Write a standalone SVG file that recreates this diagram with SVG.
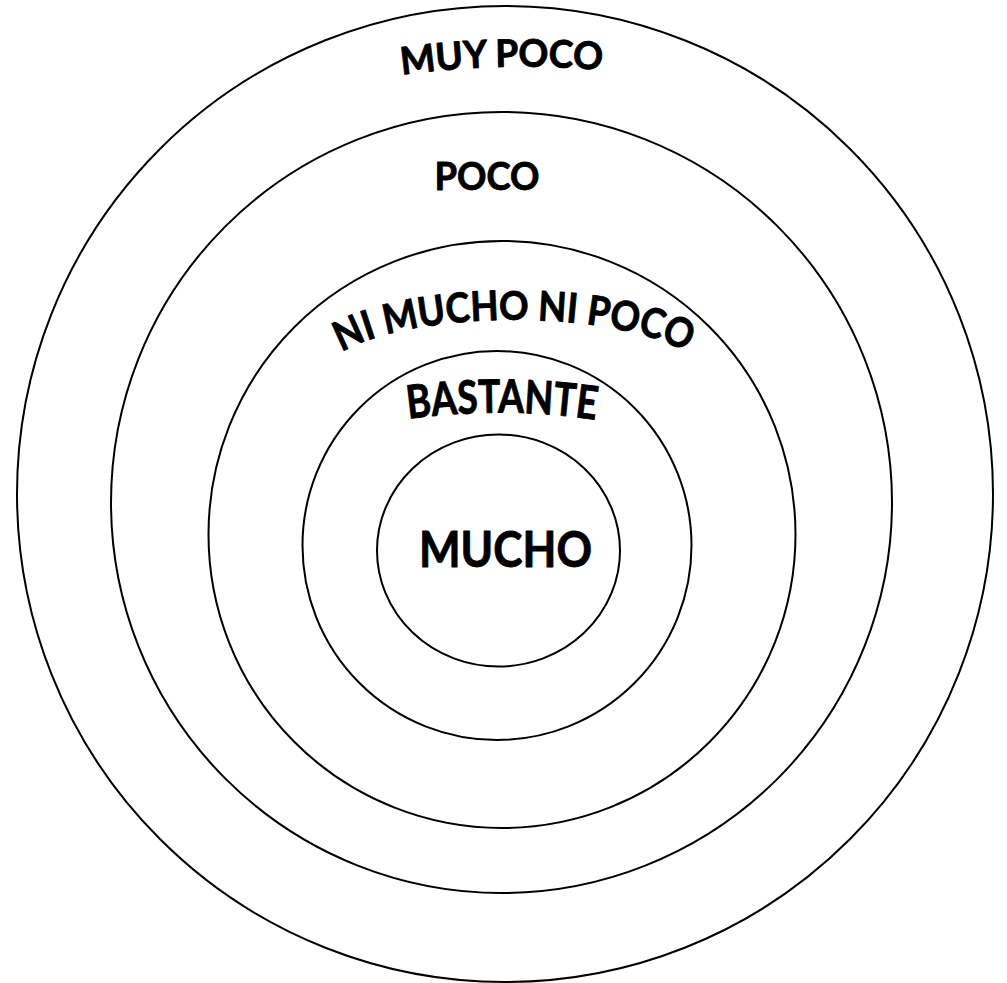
<svg xmlns="http://www.w3.org/2000/svg" width="1007" height="983" viewBox="0 0 1007 983">
<style>
.ring{fill:none;stroke:#000;stroke-width:2}
.lbl{font-family:Lato,"Open Sans","Liberation Sans",sans-serif;font-weight:700;fill:#000;stroke:#000;stroke-width:0.9;stroke-linejoin:round}
</style>
<defs>
<path id="p-muypoco" d="M 398 75.5 Q 500 61 606 70.5"/>
<path id="p-nimucho" d="M 322 378 A 192 58 0 0 1 706 378"/>
<path id="p-bastante" d="M 400 420 Q 502 405 604 421"/>
</defs>
<rect width="1007" height="983" fill="#fff"/>
<g id="ring-muy-poco">
<circle class="ring" cx="505" cy="494" r="488"/>
<text class="lbl" font-size="38"><textPath href="#p-muypoco" startOffset="50%" text-anchor="middle" textLength="201" lengthAdjust="spacingAndGlyphs">MUY POCO</textPath></text>
</g>
<g id="ring-poco">
<circle class="ring" cx="501.5" cy="502.5" r="390.5"/>
<text class="lbl" font-size="39" x="487" y="190" text-anchor="middle" textLength="105" lengthAdjust="spacingAndGlyphs">POCO</text>
</g>
<g id="ring-ni-mucho-ni-poco">
<circle class="ring" cx="502" cy="534.5" r="293.5"/>
<text class="lbl" font-size="41"><textPath href="#p-nimucho" startOffset="50%" text-anchor="middle" textLength="354" lengthAdjust="spacingAndGlyphs">NI MUCHO NI POCO</textPath></text>
</g>
<g id="ring-bastante">
<circle class="ring" cx="497" cy="545.5" r="194.5"/>
<text class="lbl" font-size="46"><textPath href="#p-bastante" startOffset="50%" text-anchor="middle" textLength="188" lengthAdjust="spacingAndGlyphs">BASTANTE</textPath></text>
</g>
<g id="ring-mucho">
<ellipse class="ring" cx="498.5" cy="550.5" rx="121.5" ry="116"/>
<text class="lbl" font-size="49" x="505.5" y="567" text-anchor="middle" textLength="173" lengthAdjust="spacingAndGlyphs">MUCHO</text>
</g>
<g id="connectors"/>
</svg>
